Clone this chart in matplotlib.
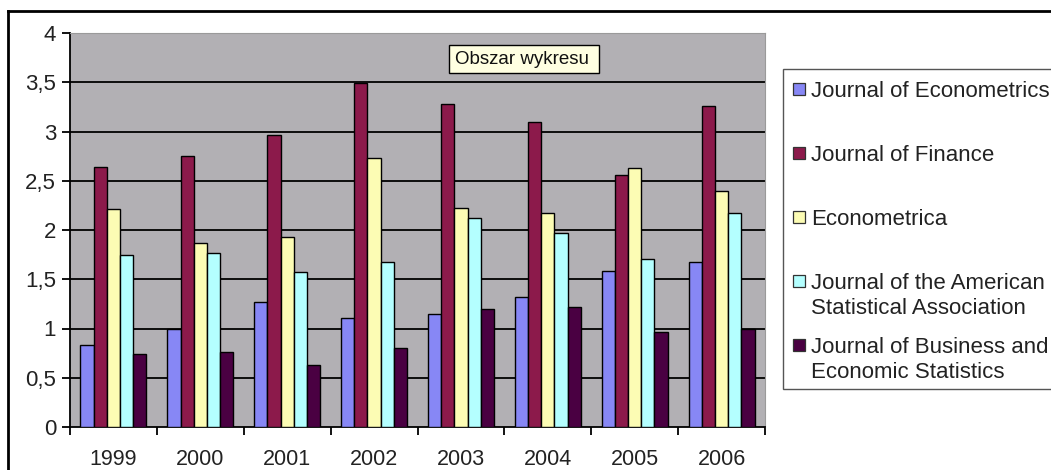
import matplotlib
matplotlib.use("Agg")
import matplotlib.pyplot as plt
from matplotlib.patches import Rectangle
from matplotlib.lines import Line2D
import numpy as np

plt.rcParams['font.family'] = ['Liberation Sans', 'DejaVu Sans']

years = ['1999', '2000', '2001', '2002', '2003', '2004', '2005', '2006']
series_names = ['Journal of Econometrics', 'Journal of Finance', 'Econometrica',
                'Journal of the American\nStatistical Association',
                'Journal of Business and\nEconomic Statistics']
j_econometrics = [0.83, 0.99, 1.27, 1.11, 1.15, 1.32, 1.58, 1.68]
j_finance      = [2.64, 2.75, 2.96, 3.49, 3.28, 3.10, 2.56, 3.26]
econometrica   = [2.21, 1.87, 1.93, 2.73, 2.22, 2.17, 2.63, 2.40]
jasa           = [1.75, 1.77, 1.57, 1.68, 2.12, 1.97, 1.71, 2.17]
jbes           = [0.74, 0.76, 0.63, 0.80, 1.20, 1.22, 0.96, 1.00]
yticks = [0, 0.5, 1, 1.5, 2, 2.5, 3, 3.5, 4]
ytick_labels = ['0', '0,5', '1', '1,5', '2', '2,5', '3', '3,5', '4']

data = [j_econometrics, j_finance, econometrica, jasa, jbes]
colors = ['#8787f5', '#8c1a4b', '#fcfcb4', '#b4ffff', '#4a0042']

W, H = 1051, 470
fig = plt.figure(figsize=(W / 100, H / 100), dpi=100)
fig.patch.set_facecolor('white')

ax = fig.add_axes([70 / W, (H - 427) / H, (765 - 70) / W, (427 - 33) / H])
ax.set_facecolor('#b2b0b4')

x = np.arange(len(years))
bw = 0.152
for i, (vals, c) in enumerate(zip(data, colors)):
    ax.bar(x + (i - 2) * bw, vals, width=bw, color=c, edgecolor='black',
           linewidth=1.0, zorder=3)

ax.set_xlim(-0.5, len(years) - 0.5)
ax.set_ylim(0, 4)
ax.set_yticks(yticks)
ax.set_yticklabels(ytick_labels, fontsize=16, color='#222222')
for yv in yticks[1:-1]:
    ax.axhline(yv, color='black', linewidth=1.3, zorder=1)

ax.set_xticks(x)
ax.set_xticklabels(years, fontsize=15.5, color='#222222')
ax.tick_params(axis='x', which='major', length=0, pad=15.5)
ax.set_xticks(np.arange(-0.5, len(years) - 0.4, 1), minor=True)
ax.tick_params(axis='x', which='minor', length=6, width=1.3, color='black', direction='out')
ax.tick_params(axis='y', length=6, width=1.3, color='black', pad=4)

for s in ['top', 'right']:
    ax.spines[s].set_color('#9a9a9a')
    ax.spines[s].set_linewidth(0.8)
ax.spines['left'].set_linewidth(1.3)
ax.spines['bottom'].set_linewidth(1.3)

# Tooltip label
fig.add_artist(Rectangle((449 / W, (H - 73) / H), 150 / W, 28 / H,
                         transform=fig.transFigure, facecolor='#ffffe1',
                         edgecolor='black', linewidth=1.0, zorder=5))
fig.text(455 / W, (H - 59) / H, 'Obszar wykresu', fontsize=13.5,
         va='center', ha='left', color='#111111', zorder=6)

# Legend (manual)
fig.add_artist(Rectangle((783 / W, (H - 389) / H), 300 / W, 320 / H,
                         transform=fig.transFigure, facecolor='white',
                         edgecolor='#555555', linewidth=1.0, clip_on=False))
first_line_y = [89, 153, 217, 281, 345]
for name, c, yy in zip(series_names, colors, first_line_y):
    fig.add_artist(Rectangle((793 / W, (H - yy - 6) / H), 12 / W, 12 / H,
                             transform=fig.transFigure, facecolor=c,
                             edgecolor='#333333', linewidth=0.9))
    fig.text(811 / W, (H - yy + 8) / H, name, fontsize=16, va='top',
             ha='left', color='#222222', linespacing=1.22,
             transform=fig.transFigure)

# Outer border
fig.add_artist(Line2D([8 / W, 1.0], [(H - 11) / H, (H - 11) / H],
                      transform=fig.transFigure, color='black', linewidth=2))
fig.add_artist(Line2D([8 / W, 8 / W], [0, (H - 11) / H],
                      transform=fig.transFigure, color='black', linewidth=2))

fig.savefig('out.png', dpi=100)
